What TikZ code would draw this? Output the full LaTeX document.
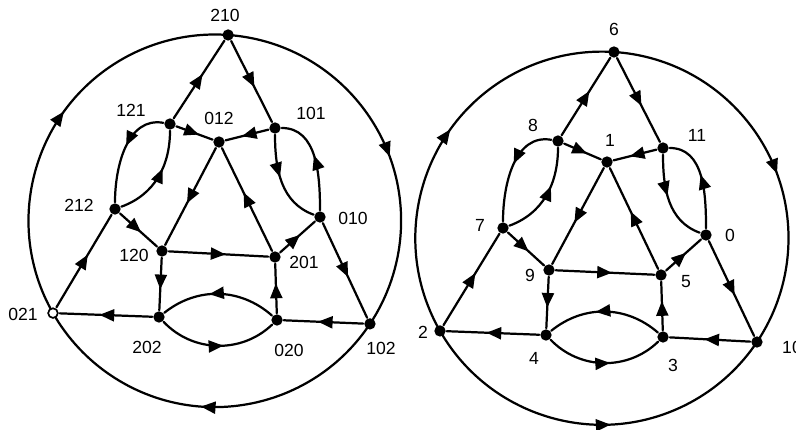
\documentclass[tikz,border=0pt]{standalone}
\usepackage{fontspec}
\setmainfont{Liberation Sans}
\usetikzlibrary{arrows.meta,decorations.markings}
\tikzset{
  dot/.style={circle,fill,inner sep=0pt,minimum size=3.4mm},
  hollowdot/.style={circle,draw,fill=white,line width=1.2pt,inner sep=0pt,minimum size=2.8mm},
  lab/.style={font=\fontsize{15}{17}\selectfont},
  arr/.style={postaction={decorate,decoration={markings,mark=at position #1 with {\arrow{Triangle[length=4.4mm,width=3.6mm]}}}}},
  arr/.default=.57
}
\begin{document}
\begin{tikzpicture}[x=0.03cm,y=0.03cm,line width=1.9pt,line join=round,line cap=round]
    \useasboundingbox (0,0) rectangle (796,-430);
    % left graph
    \coordinate (oL) at (214.8,-220.8);
    \node[dot] (n210) at ([shift={(85.9:186.3)}]oL) {};
    \node[dot] (n021) at ([shift={(209.7:186.3)}]oL) {};
    \node[dot] (n102) at ([shift={(326.4:186.3)}]oL) {};
    \node[dot] (n121) at (170,-124) {};
    \node[dot] (n012) at (219,-142) {};
    \node[dot] (n101) at (275,-128) {};
    \node[dot] (n212) at (115,-209) {};
    \node[dot] (n010) at (320,-217) {};
    \node[dot] (n120) at (162,-251) {};
    \node[dot] (n201) at (275,-257) {};
    \node[dot] (n202) at (159,-317) {};
    \node[dot] (n020) at (277,-320) {};
    \draw[arr=.53] (n021.center) arc[start angle=209.7,end angle=85.9,radius=186.3];
    \draw[arr=.55] (n210.center) arc[start angle=85.9,end angle=-33.6,radius=186.3];
    \draw[arr=.52] (n102.center) arc[start angle=-33.6,end angle=-150.3,radius=186.3];
    \draw[arr] (n121) -- (n210);
    \draw[arr] (n210) -- (n101);
    \draw[arr=.62] (n121) -- (n012);
    \draw[arr=.62] (n101) -- (n012);
    \draw[arr] (n201) -- (n012);
    \draw[arr] (n012) -- (n120);
    \draw[arr=.45] (n121) to[out=170,in=90] (n212);
    \draw[arr=.6] (n212) to[out=20,in=-90] (n121);
    \draw[arr=.45] (n101) to[out=-90,in=160] (n010);
    \draw[arr=.55] (n010) to[out=90,in=0] (n101);
    \draw[arr] (n212) -- (n120);
    \draw[arr] (n021) -- (n212);
    \draw[arr] (n120) -- (n201);
    \draw[arr] (n201) -- (n010);
    \draw[arr] (n010) -- (n102);
    \draw[arr=.6] (n120) -- (n202);
    \draw[arr=.6] (n020) -- (n201);
    \draw[arr] (n202) -- (n021);
    \draw[arr] (n102) -- (n020);
    \draw[arr=.58] (n020) to[bend right=40] (n202);
    \draw[arr=.55] (n202) to[bend right=45] (n020);
    \node[hollowdot] (n021top) at (n021) {};
    \node[lab] (t210) at (225,-15) {210};
    \node[lab] (t121) at (131,-110) {121};
    \node[lab] (t012) at (219,-118) {012};
    \node[lab] (t101) at (311,-113) {101};
    \node[lab] (t212) at (79,-205) {212};
    \node[lab] (t010) at (353,-218) {010};
    \node[lab] (t120) at (134,-255) {120};
    \node[lab] (t201) at (304,-262) {201};
    \node[lab] (t021) at (23,-314) {021};
    \node[lab] (t202) at (147,-347) {202};
    \node[lab] (t020) at (289,-350) {020};
    \node[lab] (t102) at (381,-348) {102};
    % right graph
    \coordinate (oR) at (601.9,-238.2);
    \node[dot] (n6) at ([shift={(86.3:186.6)}]oR) {};
    \node[dot] (n2) at ([shift={(209.8:186.6)}]oR) {};
    \node[dot] (n10) at ([shift={(326.2:186.6)}]oR) {};
    \node[dot] (n8) at (558,-141) {};
    \node[dot] (n1) at (607,-162) {};
    \node[dot] (n11) at (663,-148) {};
    \node[dot] (n7) at (503,-228) {};
    \node[dot] (n0) at (706,-235) {};
    \node[dot] (n9) at (549,-270) {};
    \node[dot] (n5) at (661,-275) {};
    \node[dot] (n4) at (546,-335) {};
    \node[dot] (n3) at (663,-337) {};
    \draw[arr=.53] (n2.center) arc[start angle=209.8,end angle=86.3,radius=186.6];
    \draw[arr=.55] (n6.center) arc[start angle=86.3,end angle=-33.8,radius=186.6];
    \draw[arr=.54] (n2.center) arc[start angle=-150.2,end angle=-33.8,radius=186.6];
    \draw[arr] (n8) -- (n6);
    \draw[arr] (n6) -- (n11);
    \draw[arr=.62] (n8) -- (n1);
    \draw[arr=.62] (n11) -- (n1);
    \draw[arr] (n5) -- (n1);
    \draw[arr] (n1) -- (n9);
    \draw[arr=.45] (n8) to[out=170,in=90] (n7);
    \draw[arr=.6] (n7) to[out=20,in=-90] (n8);
    \draw[arr=.45] (n11) to[out=-90,in=160] (n0);
    \draw[arr=.55] (n0) to[out=90,in=0] (n11);
    \draw[arr] (n7) -- (n9);
    \draw[arr] (n2) -- (n7);
    \draw[arr] (n9) -- (n5);
    \draw[arr] (n5) -- (n0);
    \draw[arr] (n0) -- (n10);
    \draw[arr=.6] (n9) -- (n4);
    \draw[arr=.6] (n3) -- (n5);
    \draw[arr] (n4) -- (n2);
    \draw[arr] (n10) -- (n3);
    \draw[arr=.58] (n3) to[bend right=40] (n4);
    \draw[arr=.55] (n4) to[bend right=45] (n3);
    \node[lab] (t6) at (614,-29) {6};
    \node[lab] (t8) at (533,-125) {8};
    \node[lab] (t1) at (610,-140) {1};
    \node[lab] (t11) at (697,-135) {11};
    \node[lab] (t7) at (480,-225) {7};
    \node[lab] (t0) at (730,-235) {0};
    \node[lab] (t9) at (530,-275) {9};
    \node[lab] (t5) at (686,-282) {5};
    \node[lab] (t2) at (423,-332) {2};
    \node[lab] (t4) at (534,-358) {4};
    \node[lab] (t3) at (673,-365) {3};
    \node[lab] (t10) at (792,-347) {10};
\end{tikzpicture}
\end{document}
